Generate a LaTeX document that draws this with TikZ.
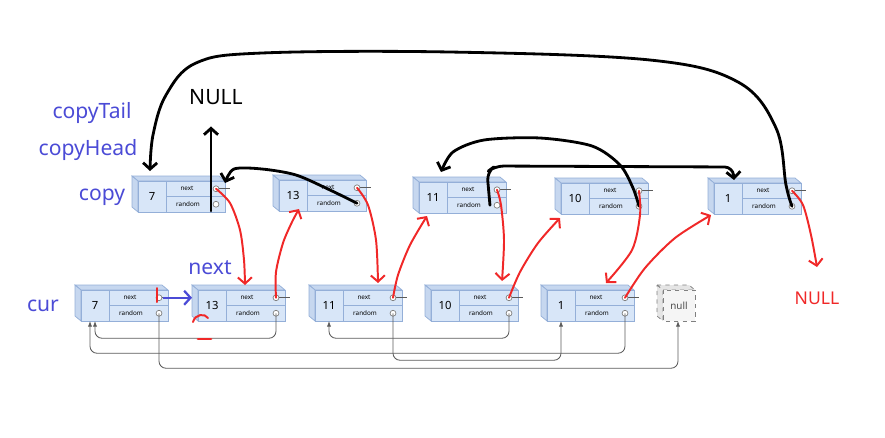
\documentclass[tikz,border=0pt]{standalone}
\usepackage{fontspec}
\setmainfont{Noto Sans}
\usetikzlibrary{arrows.meta,calc}

\definecolor{labelblue}{HTML}{4B4BD6}
\definecolor{inkred}{HTML}{F02828}
\definecolor{boxfill}{HTML}{D8E6F8}
\definecolor{boxface}{HTML}{C6D7EF}
\definecolor{boxedge}{HTML}{94AFD8}
\definecolor{ptrgray}{HTML}{5A5A5A}

\tikzset{
  ink/.style={line width=2pt, line cap=round, line join=round},
  redink/.style={inkred, line width=1.4pt, line cap=round, line join=round},
  hand/.style={-{Straight Barb[length=4.5pt,width=10pt]}},
  ptr/.style={ptrgray, line width=0.6pt, rounded corners=5pt, -{Latex[length=4pt,width=3pt]}},
  lbl/.style={labelblue, font=\fontsize{15}{15}\selectfont},
}

% one list cell: name, x, y (top left, px), value
\newcommand\listbox[4]{%
  \begin{scope}[shift={(#2,#3)}]
    \filldraw[fill=boxface, draw=boxedge, line width=0.5pt] (0,0) -- (87,0) -- (93,5) -- (6,5) -- cycle;
    \filldraw[fill=boxface, draw=boxedge, line width=0.5pt] (0,0) -- (6,5) -- (6,36) -- (0,31) -- cycle;
    \draw[boxedge, fill=boxfill, line width=0.6pt] (6,5) rectangle (93,36);
    \draw[boxedge, line width=0.6pt] (34,5) -- (34,36) (34,20.5) -- (93,20.5);
    \node[font=\fontsize{8}{8}\selectfont] (#1) at (20,20.5) {#4};
    \node[font=\fontsize{4.5}{5}\selectfont] (#1-nextlbl) at (55,12.75) {next};
    \node[font=\fontsize{4.5}{5}\selectfont] (#1-randlbl) at (56,28.25) {random};
    \draw[ptrgray, line width=0.5pt] (87,12.75) -- (98,12.75);
    \draw[gray, fill=white, line width=0.5pt] (84,12.75) circle (2.1pt);
    \draw[gray, fill=white, line width=0.5pt] (84,28.25) circle (2.1pt);
    \coordinate (#1-next) at (84,12.75);
    \coordinate (#1-rand) at (84,28.25);
    \coordinate (#1-left) at (0,12.75);
    \coordinate (#1-bot) at (20,36);
    \coordinate (#1-botl) at (15,36);
  \end{scope}}

\begin{document}
\begin{tikzpicture}[x=0.025cm, y=-0.025cm]
    \useasboundingbox (0,0) rectangle (885,437);

    % copied list
    \listbox{copy7}{132}{176}{7}
    \listbox{copy13}{273}{175}{13}
    \listbox{copy11}{413}{177}{11}
    \listbox{copy10}{555}{178}{10}
    \listbox{copy1}{708}{178}{1}

    % original list
    \listbox{cur7}{75}{285}{7}
    \listbox{cur13}{192}{285}{13}
    \listbox{cur11}{309}{285}{11}
    \listbox{cur10}{425}{285}{10}
    \listbox{cur1}{541}{285}{1}

    % null cell
    \begin{scope}[shift={(657,285)}, gray, dashed, line width=0.5pt]
        \filldraw[fill=gray!20] (0,0) -- (32,0) -- (38,5) -- (6,5) -- cycle;
        \filldraw[fill=gray!20] (0,0) -- (6,5) -- (6,36) -- (0,31) -- cycle;
        \filldraw[fill=gray!8] (6,5) rectangle (38,36);
        \node[solid, black!70, font=\fontsize{7}{7}\selectfont] (null) at (22,20.5) {null};
        \coordinate (null-bot) at (21,36);
    \end{scope}

    % random pointers of the original list
    \draw[ptr] (cur13-rand) -- ++(0,25) -| (cur7-bot);
    \draw[ptr] (cur7-rand) -- ++(0,55) -| (null-bot);
    \draw[ptr] (cur11-rand) -- ++(0,47) -| (cur1-bot);
    \draw[ptr] (cur10-rand) -- ++(0,25) -| (cur11-bot);
    \draw[ptr] (cur1-rand) -- ++(0,40) -| (cur7-botl);

    % labels
    \node[lbl] (tailLbl) at (92,113) {copyTail};
    \node[lbl] (headLbl) at (88,150) {copyHead};
    \node[lbl] (copyLbl) at (102,197) {copy};
    \node[lbl] (nextLbl) at (210,268) {next};
    \node[lbl] (curLbl) at (43,306) {cur};
    \node[font=\fontsize{15}{15}\selectfont] (blacknull) at (216,97) {NULL};
    \node[inkred, font=\fontsize{12.5}{13}\selectfont] (rednull) at (817,298) {NULL};

    % black strokes: random of the copies
    \draw[ink, hand] plot[smooth, tension=0.6] coordinates {(copy1-rand) (786,185) (776,128) (738,82) (650,60) (450,52) (262,53) (196,63) (166,95) (153,135) (150,171)};
    \coordinate (nullstem) at (211,211);
    \draw[ink, hand] (nullstem) -- ([yshift=-12pt]blacknull.south -| nullstem);
    \draw[ink, hand] plot[smooth, tension=0.5] coordinates {(copy13-rand) (330,190) (296,175) (262,169) (234,169) (225,183)};
    \draw[ink, hand, rounded corners=6pt] ([xshift=-5pt]copy11-rand) -- (487,172) -- (495,166) -- (733,167) -- (734,180);
    \draw[ink, hand] plot[smooth, tension=0.5] coordinates {(copy10-rand) (633,188) (620,165) (592,146) (540,138) (484,140) (453,152) (441,172)};

    % red strokes: next pointers after the split
    \draw[redink, hand] plot[smooth] coordinates {(copy7-next) (230,203) (240,230) (244,260) (245,285)};
    \draw[redink, hand] plot[smooth] coordinates {(cur13-next) (276,272) (283,243) (292,222) (299,209)};
    \draw[redink, hand] plot[smooth] coordinates {(copy13-next) (368,205) (376,240) (378,283)};
    \draw[redink, hand] plot[smooth] coordinates {(cur11-next) (398,275) (410,245) (427,216)};
    \draw[redink, hand] plot[smooth] coordinates {(copy11-next) (501,205) (504,240) (502,281)};
    \draw[redink, hand] plot[smooth] coordinates {(cur10-next) (520,272) (538,243) (560,218)};
    \draw[redink, hand] plot[smooth] coordinates {(copy10-next) (640,215) (632,250) (606,283)};
    \draw[redink, hand] plot[smooth] coordinates {(cur1-next) (645,268) (675,238) (711,215)};
    \draw[redink, hand] plot[smooth] coordinates {(copy1-next) (803,205) (811,235) (817,267)};

    % stray red marks
    \draw[redink] (157,288) -- (157,302);
    \draw[redink] (193,322) .. controls (195,314) and (205,313) .. (208,318);
    \draw[redink, line width=2pt] (198,339) -- (211,339);

    % blue next arrow
    \draw[labelblue, line width=1.6pt, hand] ([xshift=3pt]cur7-next) -- (cur13-left);
\end{tikzpicture}
\end{document}
